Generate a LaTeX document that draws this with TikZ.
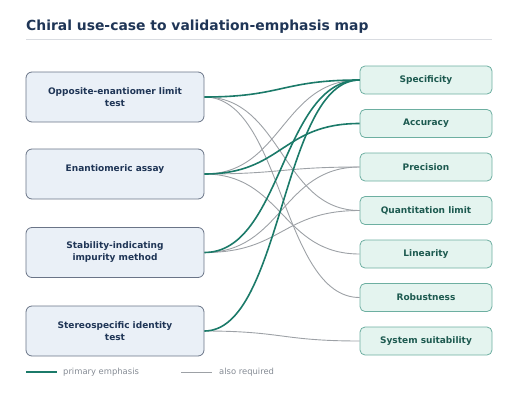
\documentclass[tikz,border=0pt]{standalone}
\usepackage{fontspec}
\setmainfont{DejaVu Sans}
\definecolor{navy}{HTML}{1F3556}
\definecolor{teal1}{HTML}{1B7A69}
\definecolor{grayline}{HTML}{9DA1A6}
\definecolor{lfill}{HTML}{EAF0F7}
\definecolor{ldraw}{HTML}{6A7487}
\definecolor{rfill}{HTML}{E4F4EF}
\definecolor{rdraw}{HTML}{6DAFA1}
\definecolor{rtext}{HTML}{1D5A50}
\definecolor{rulec}{HTML}{D9DCE1}
\definecolor{legtext}{HTML}{858B94}
\begin{document}
\begin{tikzpicture}[x=1pt,y=-1pt,
  leftbox/.style={draw=ldraw, fill=lfill, line width=0.8pt, rounded corners=6pt,
    minimum width=178pt, minimum height=50pt, align=center, text=navy,
    font=\fontsize{9}{12}\selectfont\bfseries, inner sep=0pt},
  rightbox/.style={draw=rdraw, fill=rfill, line width=0.8pt, rounded corners=5pt,
    minimum width=132pt, minimum height=28pt, align=center, text=rtext,
    font=\fontsize{9}{11}\selectfont\bfseries, inner sep=0pt},
  primary/.style={draw=teal1, line width=1.6pt},
  also/.style={draw=grayline, line width=0.9pt},
  legendtxt/.style={text=legtext, font=\fontsize{8.4}{10}\selectfont, anchor=west, inner sep=0pt}
]
\useasboundingbox (0,0) rectangle (524,396);
\node[anchor=base west, inner sep=0pt, text=navy, font=\fontsize{13.9}{16}\selectfont\bfseries] (title) at (26,30.5) {Chiral use-case to validation-emphasis map};
\coordinate (ruleL) at (26,39);
\coordinate (ruleR) at (492,39);
\draw[rulec, line width=0.8pt] (ruleL) -- (ruleR);

\node[leftbox] (L1) at (115,97) {Opposite-enantiomer limit\\test};
\node[leftbox] (L2) at (115,174) {Enantiomeric assay\\\mbox{}};
\node[leftbox] (L3) at (115,252.5) {Stability-indicating\\impurity method};
\node[leftbox] (L4) at (115,331) {Stereospecific identity\\test};

\node[rightbox] (R1) at (426,80) {Specificity};
\node[rightbox] (R2) at (426,123.5) {Accuracy};
\node[rightbox] (R3) at (426,167) {Precision};
\node[rightbox] (R4) at (426,210.5) {Quantitation limit};
\node[rightbox] (R5) at (426,254) {Linearity};
\node[rightbox] (R6) at (426,297.5) {Robustness};
\node[rightbox] (R7) at (426,341) {System suitability};

% also required
\draw[also] (L1.east) .. controls +(78,0) and +(-78,0) .. (R4.west);
\draw[also] (L1.east) .. controls +(78,0) and +(-78,0) .. (R6.west);
\draw[also] (L2.east) .. controls +(78,0) and +(-78,0) .. (R1.west);
\draw[also] (L2.east) .. controls +(78,0) and +(-78,0) .. (R3.west);
\draw[also] (L2.east) .. controls +(78,0) and +(-78,0) .. (R5.west);
\draw[also] (L3.east) .. controls +(78,0) and +(-78,0) .. (R3.west);
\draw[also] (L3.east) .. controls +(78,0) and +(-78,0) .. (R4.west);
\draw[also] (L4.east) .. controls +(78,0) and +(-78,0) .. (R7.west);
% primary
\draw[primary] (L1.east) .. controls +(78,0) and +(-78,0) .. (R1.west);
\draw[primary] (L2.east) .. controls +(78,0) and +(-78,0) .. (R2.west);
\draw[primary] (L3.east) .. controls +(78,0) and +(-78,0) .. (R1.west);
\draw[primary] (L4.east) .. controls +(78,0) and +(-78,0) .. (R1.west);

% legend
\coordinate (lg1a) at (26,372);
\coordinate (lg1b) at (57,372);
\draw[primary] (lg1a) -- (lg1b);
\node[legendtxt] (lt1) at (63,372) {primary emphasis};
\coordinate (lg2a) at (181,372);
\coordinate (lg2b) at (212,372);
\draw[also] (lg2a) -- (lg2b);
\node[legendtxt] (lt2) at (219,372) {also required};
\end{tikzpicture}
\end{document}
